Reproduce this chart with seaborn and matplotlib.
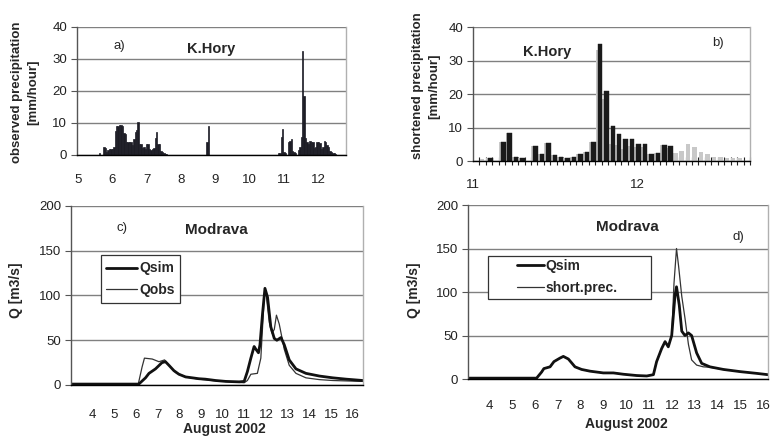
import numpy as np
import matplotlib
matplotlib.use("Agg")
import matplotlib.pyplot as plt
from matplotlib.lines import Line2D
from matplotlib.patches import Rectangle
import seaborn as sns

# a) observed hourly precipitation, K.Hory (hour counted from day 5, mm/hour)
obs_hour = [15, 18, 19, 20, 21, 22, 23, 24, 25, 26, 27, 28, 29, 30, 31, 32, 33, 34, 35, 36,
            37, 38, 39, 40, 41, 42, 43, 44, 45, 46, 47, 48, 49, 50, 51, 52, 53, 54, 55, 56,
            57, 58, 59, 60, 61, 62,
            90, 91,
            140, 141, 142, 143, 144, 145, 147, 148, 149, 150, 151, 152, 154, 155, 156, 157,
            158, 159, 160, 161, 162, 163, 164, 165, 166, 167, 168, 169, 170, 171, 172, 173,
            174, 175, 176, 177, 178, 179, 180]
obs_mm = [0.5, 2.5, 2.3, 1.0, 1.5, 2.0, 2.0, 2.0, 2.5, 7.5, 9.0, 9.2, 9.5, 9.5, 9.0, 7.0, 6.5, 4.2, 4.2, 4.2,
          4.2, 3.0, 5.0, 7.2, 7.8, 10.3, 3.5, 3.5, 2.2, 2.5, 2.0, 3.5, 3.5, 2.0, 1.5, 2.0, 2.2, 5.2, 7.2, 3.5,
          3.5, 1.2, 1.0, 0.5, 0.4, 0.3,
          4.0, 9.0,
          0.5, 0.5, 5.5, 8.0, 1.0, 0.5, 4.0, 4.5, 5.0, 1.2, 0.8, 0.5, 1.5, 2.5, 5.5, 32.5,
          18.5, 5.2, 4.0, 3.5, 4.5, 4.2, 4.2, 2.2, 2.5, 4.0, 4.0, 3.8, 2.0, 2.5, 4.5, 4.2,
          3.0, 2.5, 1.2, 0.8, 0.5, 0.5, 0.3]

# b) shortened precipitation (black) over the observed one (grey), hourly steps
short_step = [2, 4, 5, 6, 7, 9, 10, 11, 12, 13, 14, 15, 16, 17, 18, 19, 20, 21, 22, 23,
              24, 25, 26, 27, 28, 29, 30]
short_mm = [0.8, 5.8, 8.5, 1.2, 0.8, 4.5, 2.2, 5.5, 1.8, 1.2, 0.8, 1.2, 2.2, 2.8, 5.8, 35.0,
            20.8, 10.5, 8.2, 6.5, 6.5, 5.0, 5.0, 2.2, 2.5, 4.8, 4.5]
orig_step = [1, 2, 4, 5, 6, 7, 9, 10, 11, 12, 13, 14, 15, 16, 17, 18, 19, 20, 21, 22, 23,
             24, 25, 26, 27, 28, 29, 30, 31, 32, 33, 34, 35, 36, 37, 38, 39, 40, 41]
orig_mm = [0.5, 0.8, 5.8, 8.5, 1.2, 0.8, 4.5, 2.2, 5.5, 1.8, 1.2, 0.8, 1.2, 2.2, 2.8, 5.8, 33.0,
           18.5, 5.2, 4.9, 3.5, 4.5, 4.2, 4.2, 2.2, 2.5, 4.8, 4.0, 2.5, 3.0, 5.0, 4.2, 2.8,
           2.2, 1.2, 1.2, 0.8, 0.8, 0.8]
b_tick_pos = [0, 25.5]
b_tick_lab = ["11", "12"]

# c) Modrava discharge, simulated vs observed
c_day_sim = [3.0, 6.13, 6.44, 6.6, 6.9, 7.2, 7.36, 7.52, 7.75, 7.98, 8.29, 8.6, 8.9, 9.2, 9.68,
             10.14, 10.76, 10.99, 11.14, 11.3, 11.45, 11.53, 11.65, 11.72, 11.84, 11.95, 12.07,
             12.22, 12.38, 12.5, 12.69, 12.84, 13.07, 13.38, 13.84, 14.46, 15.08, 15.7, 16.47]
c_qsim = [1, 1, 8, 13, 18, 25, 26, 22, 16, 12, 9, 8, 7, 6.5, 5, 4, 3.5, 4, 15, 30, 43, 40, 36,
          45, 80, 108, 98, 65, 52, 50, 53, 45, 28, 18, 13, 10, 8, 6.5, 5]
c_day_obs = [3.0, 6.1, 6.28, 6.39, 6.75, 7.06, 7.32, 7.52, 7.83, 8.29, 8.9, 9.52, 10.14, 10.99,
             11.14, 11.3, 11.6, 11.76, 11.92, 11.99, 12.15, 12.27, 12.38, 12.48, 12.61, 12.84,
             13.07, 13.38, 13.84, 14.46, 15.08, 16.47]
c_qobs = [0.5, 0.5, 20, 30, 29, 26, 28, 22, 14, 9, 6.5, 5, 4, 2.5, 5, 12, 13, 30, 100, 105, 70,
          58, 62, 78, 68, 40, 22, 13, 8, 6, 5, 4]

# d) Modrava discharge, simulated vs simulated with shortened precipitation
d_day_sim = [3.0, 6.08, 6.3, 6.4, 6.67, 6.84, 7.1, 7.25, 7.47, 7.6, 7.76, 8.05, 8.42, 9.0, 9.44,
             9.87, 10.46, 10.9, 11.19, 11.33, 11.55, 11.7, 11.84, 11.99, 12.13, 12.2, 12.32,
             12.43, 12.57, 12.72, 12.86, 13.08, 13.3, 13.66, 14.25, 14.98, 15.7, 16.19]
d_qsim = [1, 1, 8, 12, 14, 20, 24, 26, 23, 19, 14, 11, 9, 7, 7, 5.5, 4, 3.5, 5, 20, 35, 43, 37,
          50, 95, 106, 85, 55, 50, 53, 50, 30, 18, 14, 11, 8.5, 6.5, 5]
d_day_short = [3.0, 6.08, 6.3, 6.4, 6.67, 6.84, 7.1, 7.25, 7.47, 7.6, 7.76, 8.05, 8.42, 9.0, 9.44,
               9.87, 10.46, 10.9, 11.19, 11.33, 11.55, 11.7, 11.84, 11.99, 12.09, 12.2, 12.29,
               12.43, 12.57, 12.72, 12.86, 13.08, 13.37, 13.66, 14.25, 14.98, 15.7, 16.19]
d_qshort = [1, 1, 8, 12, 14, 20, 24, 26, 23, 19, 14, 11, 9, 7, 7, 5.5, 4, 3.5, 5, 20, 35, 43, 37,
            50, 110, 150, 130, 95, 70, 40, 22, 16, 14, 13.5, 11, 8.5, 6.5, 5]

days_c = list(range(4, 17))

sns.set_style("white")
plt.rcParams["font.family"] = ["Liberation Sans", "DejaVu Sans"]

GRID = "#808080"


def style(ax, ymax, ystep):
    ax.set_ylim(0, ymax)
    ax.set_yticks(range(0, ymax + 1, ystep))
    ax.yaxis.grid(True, color=GRID, lw=1.0)
    ax.xaxis.grid(False)
    ax.set_axisbelow(True)
    ax.spines["top"].set_visible(False)
    ax.spines["right"].set_color("#b0b0b0")
    ax.spines["left"].set_color("#555555")
    ax.spines["bottom"].set_color("black")
    for s in ax.spines.values():
        s.set_linewidth(1.0)
    ax.tick_params(axis="y", direction="out", length=4, width=0.8, color="#555555",
                   labelsize=9.5, pad=3, labelcolor="#222222", left=True)
    ax.tick_params(axis="x", length=0, labelsize=9.5, labelcolor="#222222")
    ax.set_xlabel("")
    ax.set_ylabel("")


fig = plt.figure(figsize=(7.73, 4.36), dpi=100)
ax_a = fig.add_axes([0.0996, 0.6445, 0.348, 0.2936])
ax_b = fig.add_axes([0.6119, 0.6307, 0.3583, 0.3073])
ax_c = fig.add_axes([0.0918, 0.117, 0.3777, 0.4106])
ax_d = fig.add_axes([0.6054, 0.1307, 0.3881, 0.3991])

# ---- a)
obs_day = [5 + h / 24 for h in obs_hour]
sns.barplot(x=obs_day, y=obs_mm, ax=ax_a, native_scale=True, width=1.0,
            color="#1c1c26", edgecolor="#1c1c26", linewidth=0.5, errorbar=None)
style(ax_a, 40, 10)
ax_a.set_xlim(4.97, 12.8)
ax_a.set_xticks(range(5, 13))
ax_a.set_xticklabels([str(d) for d in range(5, 13)])
ax_a.tick_params(axis="x", pad=14)
ax_a.text(0.156, 0.854, "a)", transform=ax_a.transAxes, fontsize=9.5, ha="center", va="center")
ax_a.text(0.5, 0.826, "K.Hory", transform=ax_a.transAxes, fontsize=10.5, fontweight="bold",
          ha="center", va="center")
ax_a.set_ylabel("observed precipitation\n[mm/hour]", fontsize=9.5, fontweight="bold",
                linespacing=1.4)
ax_a.yaxis.set_label_coords(-0.141, 0.49)

# ---- b)
orig_x = [s + 0.4 for s in orig_step]
short_x = [s + 0.7 for s in short_step]
sns.barplot(x=orig_x, y=orig_mm, ax=ax_b, native_scale=True, width=0.7,
            color="#c8c8c8", linewidth=0, errorbar=None)
sns.barplot(x=short_x, y=short_mm, ax=ax_b, native_scale=True, width=0.7,
            color="#1a1a1a", edgecolor="#1a1a1a", linewidth=0.3, errorbar=None)
style(ax_b, 40, 10)
ax_b.set_xlim(0, 43)
ax_b.set_xticks(b_tick_pos)
ax_b.set_xticklabels(b_tick_lab)
ax_b.set_xticks(np.arange(0, 44), minor=True)
ax_b.tick_params(axis="x", which="major", length=0, pad=13)
ax_b.tick_params(axis="x", which="minor", direction="inout", length=6, width=0.8,
                 color="#222222", bottom=True)
ax_b.text(0.886, 0.878, "b)", transform=ax_b.transAxes, fontsize=9.5, ha="center", va="center")
ax_b.text(0.266, 0.816, "K.Hory", transform=ax_b.transAxes, fontsize=10.5, fontweight="bold",
          ha="center", va="center")
ax_b.set_ylabel("shortened precipitation\n[mm/hour]", fontsize=9.5, fontweight="bold",
                linespacing=1.4)
ax_b.yaxis.set_label_coords(-0.119, 0.56)

# ---- c) and d)
def flow_panel(ax, d1, q1, d2, q2, lab2, xlim, legend_box, legend_anchor, handle_len):
    sns.lineplot(x=d2, y=q2, ax=ax, color="#333333", lw=0.9, estimator=None, sort=False)
    sns.lineplot(x=d1, y=q1, ax=ax, color="#111111", lw=2.0, estimator=None, sort=False)
    style(ax, 200, 50)
    ax.set_xlim(*xlim)
    ax.set_xticks(days_c)
    ax.set_xticklabels([str(d) for d in days_c])
    ax.set_xlabel("August 2002", fontsize=10, fontweight="bold")
    ax.set_ylabel("Q [m3/s]", fontsize=10, fontweight="bold")
    ax.add_patch(Rectangle(legend_box[:2], legend_box[2], legend_box[3], transform=ax.transAxes,
                           fill=True, facecolor="white", edgecolor="#333333", lw=0.9, zorder=5))
    handles = [Line2D([], [], color="#111111", lw=2.0), Line2D([], [], color="#333333", lw=0.9)]
    leg = ax.legend(handles, ["Qsim", lab2], loc="upper left", bbox_to_anchor=legend_anchor,
                    frameon=False, borderpad=0, borderaxespad=0, handlelength=handle_len,
                    handletextpad=0.15, labelspacing=0.55,
                    prop={"weight": "bold", "size": 10})
    leg.set_zorder(6)


flow_panel(ax_c, c_day_sim, c_qsim, c_day_obs, c_qobs, "Qobs", (3.0, 16.47),
           (0.103, 0.458, 0.27, 0.268), (0.12, 0.69), 2.25)
ax_c.tick_params(axis="x", pad=17)
ax_c.xaxis.set_label_coords(0.524, -0.207)
ax_c.yaxis.set_label_coords(-0.164, 0.53)
ax_c.text(0.175, 0.877, "c)", transform=ax_c.transAxes, fontsize=9.5, ha="center", va="center")
ax_c.text(0.497, 0.866, "Modrava", transform=ax_c.transAxes, fontsize=11, fontweight="bold",
          ha="center", va="center")

flow_panel(ax_d, d_day_sim, d_qsim, d_day_short, d_qshort, "short.prec.", (3.08, 16.2),
           (0.067, 0.46, 0.543, 0.247), (0.162, 0.69), 1.95)
ax_d.tick_params(axis="x", pad=15)
ax_d.xaxis.set_label_coords(0.529, -0.217)
ax_d.yaxis.set_label_coords(-0.158, 0.51)
ax_d.text(0.9, 0.818, "d)", transform=ax_d.transAxes, fontsize=9.5, ha="center", va="center")
ax_d.text(0.533, 0.875, "Modrava", transform=ax_d.transAxes, fontsize=11, fontweight="bold",
          ha="center", va="center")

fig.savefig("out.png", dpi=100)
